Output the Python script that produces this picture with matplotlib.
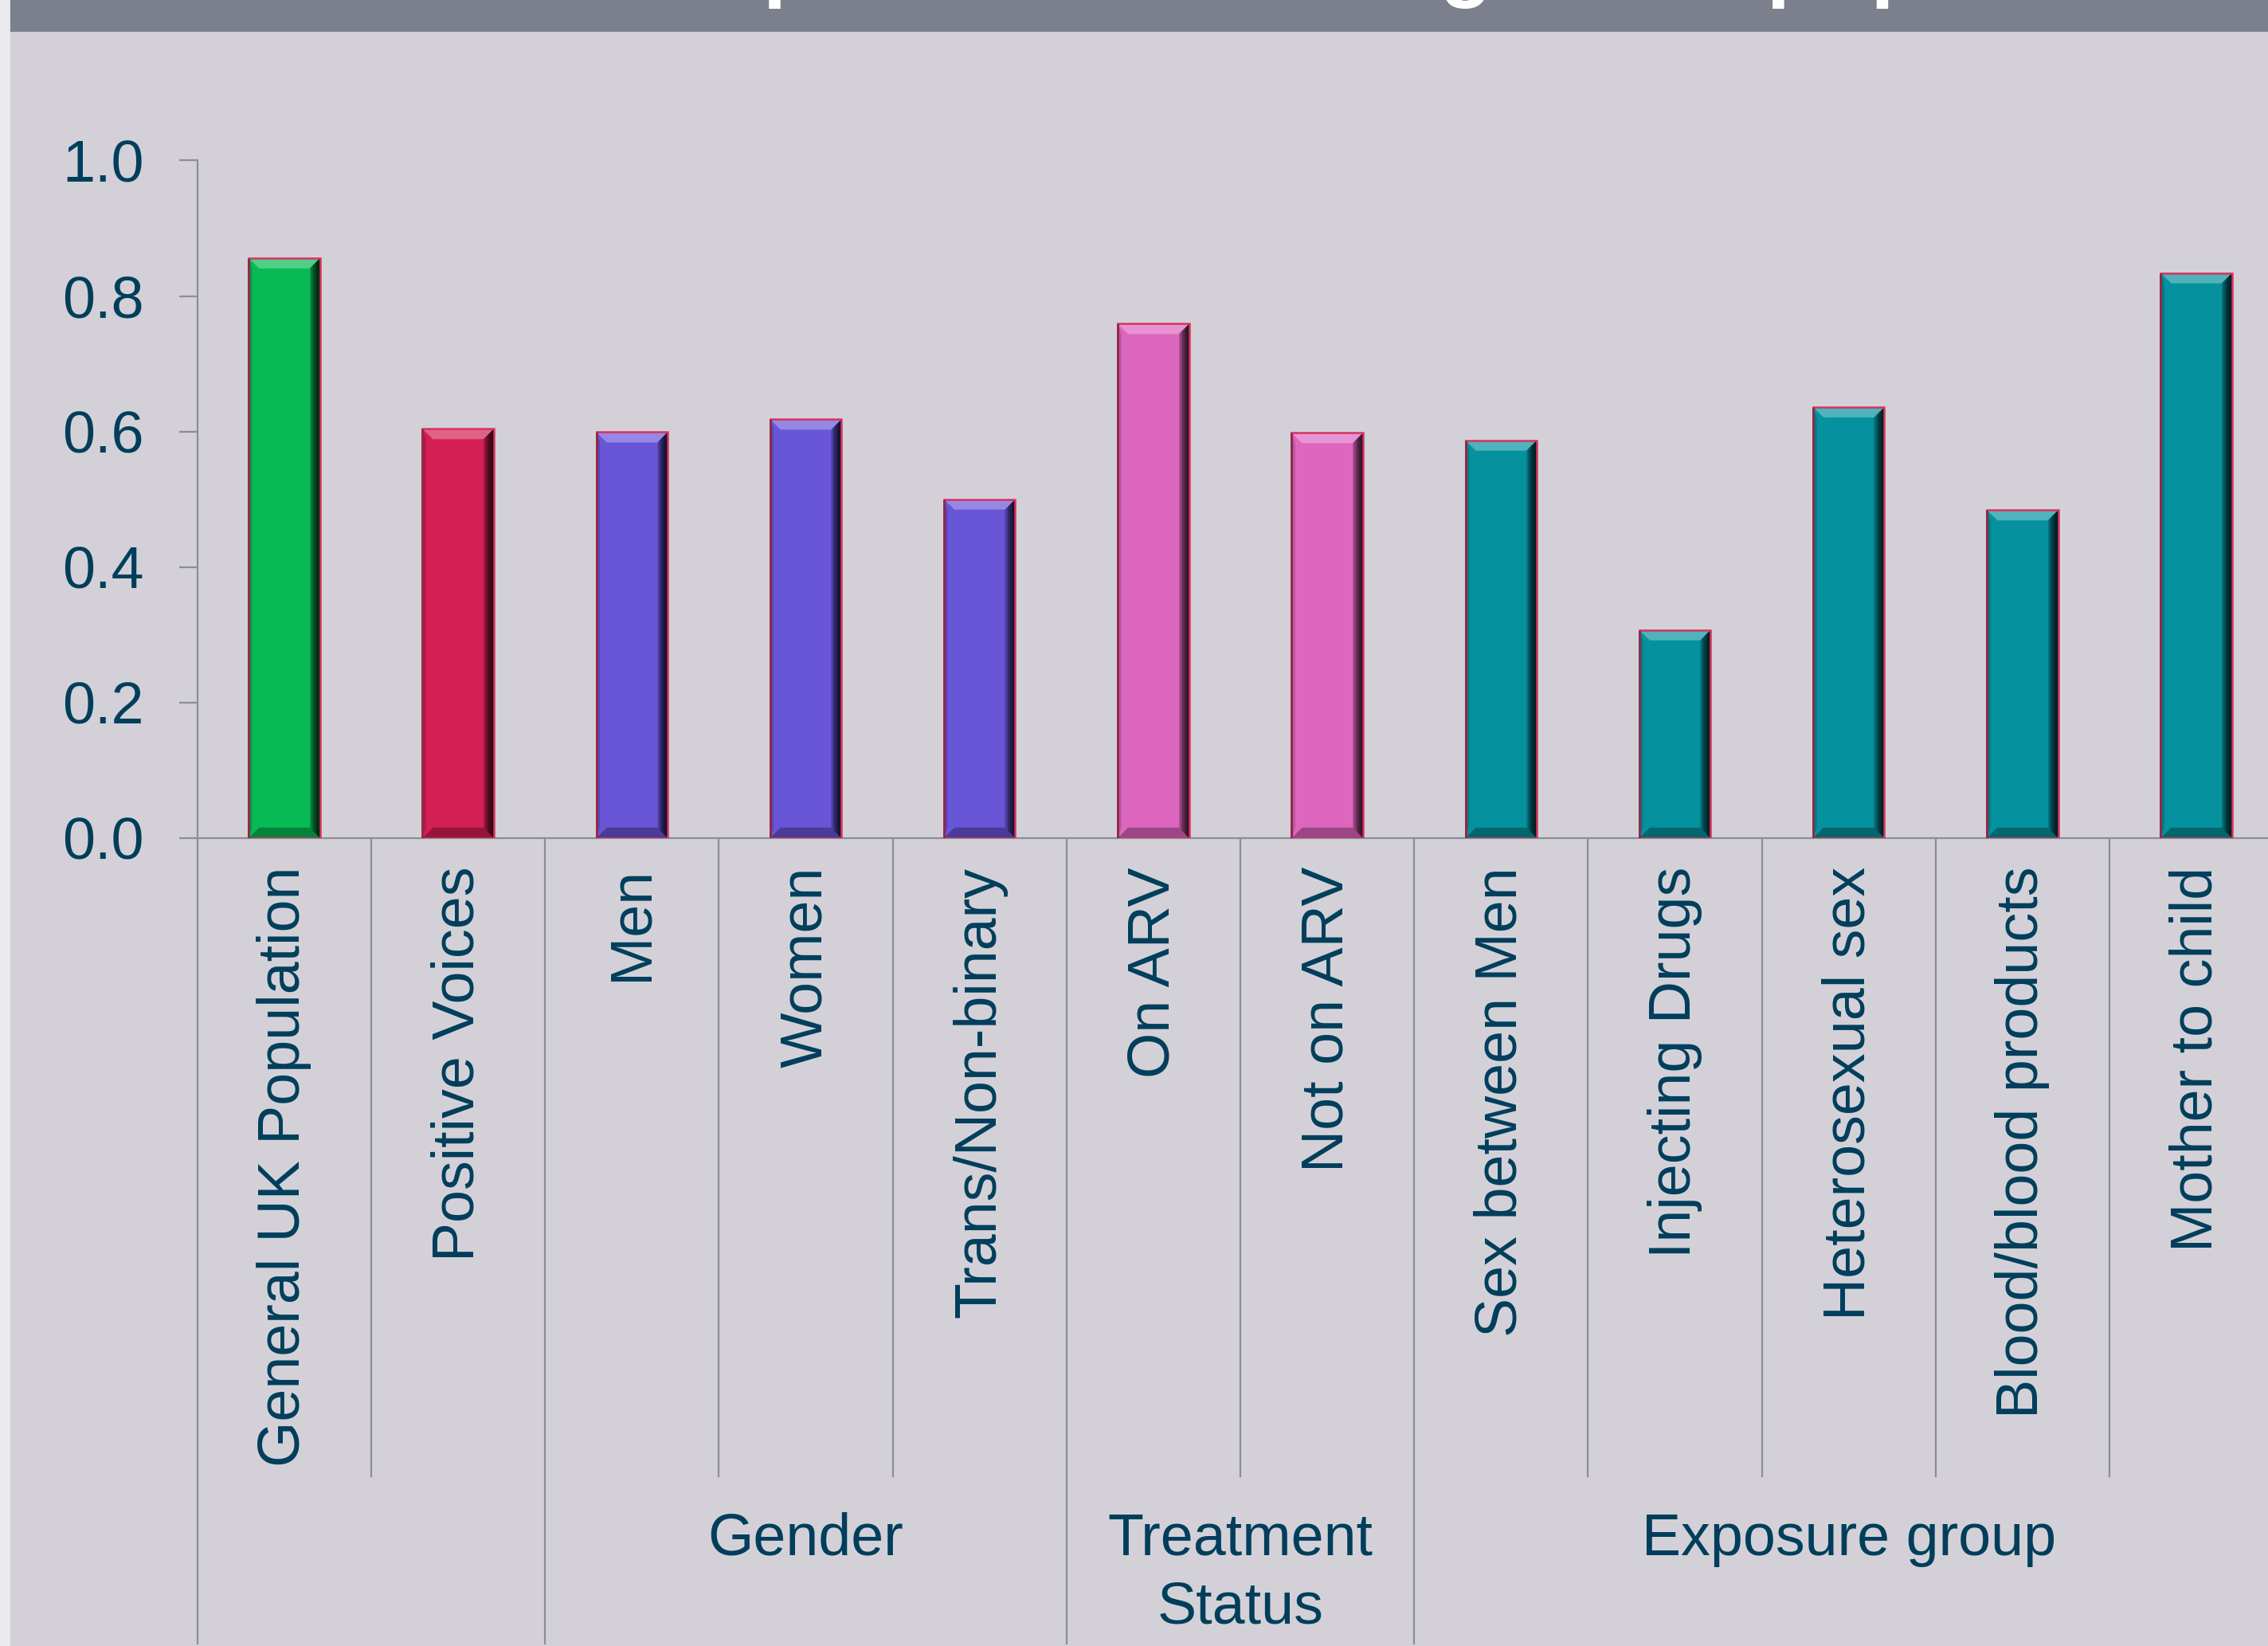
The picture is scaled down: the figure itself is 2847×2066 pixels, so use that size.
import numpy as np
import matplotlib.pyplot as plt
import matplotlib.colors as mcolors
from matplotlib.patches import Rectangle, Polygon
from matplotlib.transforms import blended_transform_factory

plt.rcParams['font.family'] = ['Liberation Sans', 'DejaVu Sans']

# data
categories = ['General UK Population', 'Positive Voices', 'Men', 'Women', 'Trans/Non-binary',
              'On ARV', 'Not on ARV', 'Sex between Men', 'Injecting Drugs',
              'Heterosexual sex', 'Blood/blood products', 'Mother to child']
values = [0.856, 0.604, 0.599, 0.618, 0.500, 0.759, 0.598, 0.587, 0.307, 0.636, 0.484, 0.834]
colours = ['#07BA55', '#D41F55', '#6855D8', '#6855D8', '#6855D8', '#DD66BF', '#DD66BF',
           '#05919E', '#05919E', '#05919E', '#05919E', '#05919E']
groups = ['', 'Gender', 'Treatment\nStatus', 'Exposure group']
group_sizes = [2, 3, 2, 5]
yticks = [0.0, 0.2, 0.4, 0.6, 0.8, 1.0]
title = 'comparison with the general population'

W, H, DPI = 2847, 2066, 200
bg = '#D3D1D7'
text_col = '#003E5C'
line_col = '#8E8C94'
fs = 26.5

fig = plt.figure(figsize=(W / DPI, H / DPI), dpi=DPI, facecolor=bg)

# header band (title mostly cut off at the top) and light left strip
fig.patches.append(Rectangle((12 / W, 1 - 38 / H), 1, 38 / H, transform=fig.transFigure,
                             color='#7B808C', zorder=0))
fig.patches.append(Rectangle((0, 0), 11 / W, 1, transform=fig.transFigure,
                             color='#EBEBEE', zorder=0))
fig.text(738 / W, 1 + 11 / H, title, color='white', fontsize=38.5, fontweight='bold',
         ha='left', va='baseline')

# axes run slightly past the right edge, like the original slide
ax = fig.add_axes([247.8 / W, 1 - 1051.8 / H, 2618.4 / W, 850.3 / H])
ax.patch.set_visible(False)

x = np.arange(len(categories))
bw = 0.41
ax.bar(x, values, width=bw, color=colours, linewidth=0, zorder=2)

# fake bevel: light top, dark bottom, maroon left rim, shaded right edge
bx = 0.06
by = 0.0153
for xi, v, c in zip(x, values, colours):
    rgb = np.array(mcolors.to_rgb(c))
    light = rgb + (1 - rgb) * 0.3
    dark = rgb * 0.7
    x0, x1 = xi - bw / 2, xi + bw / 2
    ax.add_patch(Polygon([(x0, 0), (x0, v), (x0 + bx * 0.35, v - by), (x0 + bx * 0.35, by)],
                         closed=True, color=rgb * 0.85, lw=0, zorder=3))
    for k in range(8):
        wk = bx * (1 - k / 8)
        ax.add_patch(Rectangle((x1 - wk, 0), wk, v, color='black', alpha=0.18, lw=0, zorder=3))
    ax.add_patch(Polygon([(x0, v), (x1, v), (x1 - bx, v - by), (x0 + bx, v - by)],
                         closed=True, color=light, lw=0, zorder=4))
    ax.add_patch(Polygon([(x0, 0), (x1, 0), (x1 - bx, by), (x0 + bx, by)],
                         closed=True, color=dark, lw=0, zorder=4))
ax.bar(x, values, width=bw, fill=False, edgecolor='#D8325E', linewidth=0.9, zorder=5)
ax.vlines(x - bw / 2, 0, values, color='#8E2848', lw=1.0, zorder=6)

ax.set_xlim(-0.5, len(categories) - 0.5)
ax.set_ylim(0, 1)

for s in ['top', 'right']:
    ax.spines[s].set_visible(False)
for s in ['left', 'bottom']:
    ax.spines[s].set_color(line_col)
    ax.spines[s].set_linewidth(0.8)

ax.set_yticks(yticks)
ax.set_yticklabels([f'{t:.1f}' for t in yticks])
ax.tick_params(axis='y', length=8.3, width=0.8, color=line_col, pad=15.8,
               labelsize=fs, labelcolor=text_col)

ax.set_xticks(x)
ax.set_xticklabels(categories, rotation=90, va='top', ha='center')
ax.tick_params(axis='x', length=0, pad=13, labelsize=fs, labelcolor=text_col)

# category separators and group separators below the axis
trans = blended_transform_factory(ax.transData, ax.transAxes)
group_bounds = list(np.cumsum([0] + group_sizes) - 0.5)
for b in np.arange(len(categories) + 1) - 0.5:
    low = -1.189 if b in group_bounds else -0.942
    ax.plot([b, b], [0, low], transform=trans, color=line_col, lw=0.8,
            clip_on=False, zorder=1)

starts = np.cumsum([0] + group_sizes[:-1])
for name, s, n in zip(groups, starts, group_sizes):
    ax.text(s + n / 2 - 0.5, -0.995, name, transform=trans, ha='center', va='top',
            fontsize=fs, color=text_col, linespacing=1.3)

fig.savefig('out.png', dpi=DPI, facecolor=bg)
